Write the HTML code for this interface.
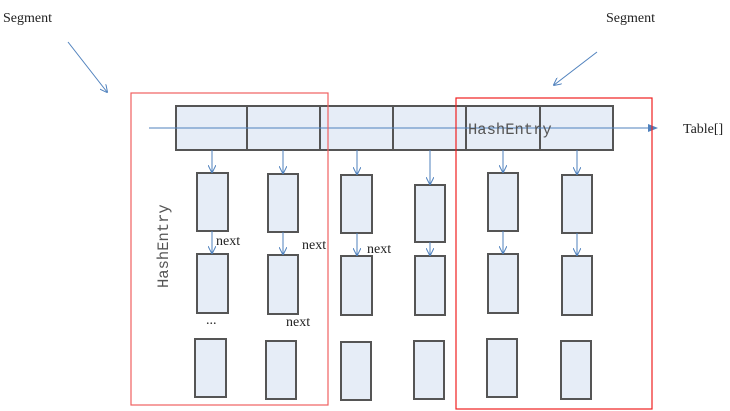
<!DOCTYPE html><html><head><style>body{margin:0;background:#fff}svg{display:block}</style></head><body>
<svg width="730" height="411" xmlns="http://www.w3.org/2000/svg" font-family="Liberation Serif, serif">
<defs><marker id="a" markerWidth="8" markerHeight="8" refX="7" refY="4" orient="auto" markerUnits="userSpaceOnUse"><path d="M0,0 L8,4 L0,8" fill="none" stroke="#4f81bd" stroke-width="1"/></marker>
<marker id="f" markerWidth="10" markerHeight="8" refX="9" refY="4" orient="auto" markerUnits="userSpaceOnUse"><path d="M0,0 L10,4 L0,8z" fill="#4f81bd"/></marker></defs>
<g fill="#e6edf7" stroke="#555" stroke-width="2">
<rect x="176" y="106" width="71" height="44"/><rect x="247" y="106" width="73" height="44"/><rect x="320" y="106" width="73" height="44"/><rect x="393" y="106" width="73" height="44"/><rect x="466" y="106" width="74" height="44"/><rect x="540" y="106" width="73" height="44"/>
<rect x="197" y="173" width="31" height="58"/><rect x="268" y="174" width="30" height="58"/><rect x="341" y="175" width="31" height="58"/><rect x="415" y="185" width="30" height="57"/><rect x="488" y="173" width="30" height="58"/><rect x="562" y="175" width="30" height="58"/>
<rect x="197" y="254" width="31" height="59"/><rect x="268" y="255" width="30" height="59"/><rect x="341" y="256" width="31" height="59"/><rect x="415" y="256" width="30" height="59"/><rect x="488" y="254" width="30" height="59"/><rect x="562" y="256" width="30" height="59"/>
<rect x="195" y="339" width="31" height="58"/><rect x="266" y="341" width="30" height="58"/><rect x="341" y="342" width="30" height="58"/><rect x="414" y="341" width="30" height="58"/><rect x="487" y="339" width="30" height="58"/><rect x="561" y="341" width="30" height="58"/>
</g>
<g stroke="#4f81bd" stroke-width="1" marker-end="url(#a)">
<line x1="212" y1="150" x2="212" y2="172"/><line x1="283" y1="150" x2="283" y2="173"/><line x1="357" y1="150" x2="357" y2="174"/><line x1="430" y1="150" x2="430" y2="184"/><line x1="503" y1="150" x2="503" y2="172"/><line x1="577" y1="150" x2="577" y2="174"/>
<line x1="212" y1="231" x2="212" y2="253"/><line x1="283" y1="232" x2="283" y2="254"/><line x1="357" y1="233" x2="357" y2="255"/><line x1="430" y1="242" x2="430" y2="255"/><line x1="503" y1="231" x2="503" y2="253"/><line x1="577" y1="233" x2="577" y2="255"/>
<line x1="68" y1="42" x2="107" y2="92"/><line x1="597" y1="52" x2="554" y2="85"/>
</g>
<line x1="149" y1="128" x2="657" y2="128" stroke="#4f81bd" stroke-width="1" marker-end="url(#f)"/>
<rect x="131" y="93" width="197" height="312" fill="none" stroke="#f06060" stroke-width="1.2"/>
<rect x="456" y="98" width="196" height="311" fill="none" stroke="#f02020" stroke-width="1.2"/>
<g font-size="14" fill="#222">
<text x="3" y="22">Segment</text><text x="606" y="22">Segment</text><text x="683" y="133">Table[]</text>
<text x="216" y="245">next</text><text x="302" y="249">next</text><text x="367" y="253">next</text><text x="286" y="326">next</text><text x="206" y="324">...</text>
</g>
<g font-family="Liberation Mono, monospace" font-size="15.5" fill="#555">
<text x="468" y="134">HashEntry</text>
<text transform="translate(168,288) rotate(-90)">HashEntry</text>
</g>
</svg></body></html>
